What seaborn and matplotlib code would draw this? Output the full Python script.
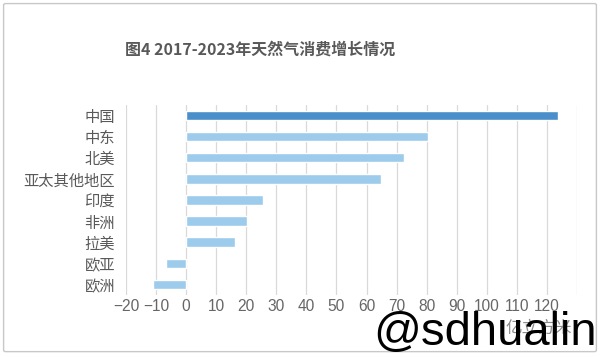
import matplotlib
matplotlib.use("Agg")
import matplotlib.pyplot as plt
import seaborn as sns
import pandas as pd
from matplotlib.patches import FancyBboxPatch

regions = ["中国", "中东", "北美", "亚太其他地区", "印度", "非洲", "拉美", "欧亚", "欧洲"]
growth = [123.8, 80.6, 72.5, 64.7, 25.4, 20.2, 16.1, -6.8, -11.1]
xticks = list(range(-20, 131, 10))
xticklabels = [str(v).replace("-", "\u2212") for v in range(-20, 121, 10)] + [""]

title = "图4 2017-2023年天然气消费增长情况"
unit = "亿立方米"
watermark = "@sdhualin"

sns.set_style("white")
plt.rcParams['font.family'] = ['Noto Sans CJK SC', 'DejaVu Sans']
plt.rcParams['axes.unicode_minus'] = True

df = pd.DataFrame({"region": regions, "growth": growth})
palette = ["#4a8fc9"] + ["#9ccbec"] * (len(regions) - 1)

fig = plt.figure(figsize=(6.0, 3.57), dpi=100)
ax = fig.add_axes([0.21, 0.1737, 0.7517, 0.5323])

sns.barplot(data=df, x="growth", y="region", hue="region", palette=palette,
            legend=False, width=0.45, ax=ax, saturation=1, orient="h")

ax.set_xlim(-20, 130)
ax.set_ylim(len(regions) - 0.5, -0.5)
ax.set_xticks(xticks)
ax.set_xticklabels(xticklabels, family=["Liberation Sans", "DejaVu Sans"], fontsize=11.2)
ax.set_xlabel("")
ax.set_ylabel("")
for s in ax.spines.values():
    s.set_visible(False)
ax.grid(axis="x", color="#d9d9d9", linewidth=0.9)
ax.set_axisbelow(True)
ax.tick_params(axis="y", length=0, labelsize=11, labelcolor="#595959", pad=8)
ax.tick_params(axis="x", length=0, labelcolor="#666666", pad=3)

fig.text(0.434, 0.862, title, ha="center", va="center", fontsize=11.5,
         fontweight="bold", color="#595959")
fig.text(0.953, 0.08, unit, ha="right", va="center", fontsize=12, color="#8c8c8c")

frame = FancyBboxPatch((0.006, 0.015), 0.988, 0.975, boxstyle="round,pad=0,rounding_size=0.004",
                       transform=fig.transFigure, fill=False, edgecolor="#c8c8c8", linewidth=1.0)
fig.patches.append(frame)

fig.text(0.995, 0.035, watermark, ha="right", va="baseline", fontsize=34,
         color="black", family=["Liberation Sans", "DejaVu Sans"])

fig.savefig("out.png", dpi=100)
